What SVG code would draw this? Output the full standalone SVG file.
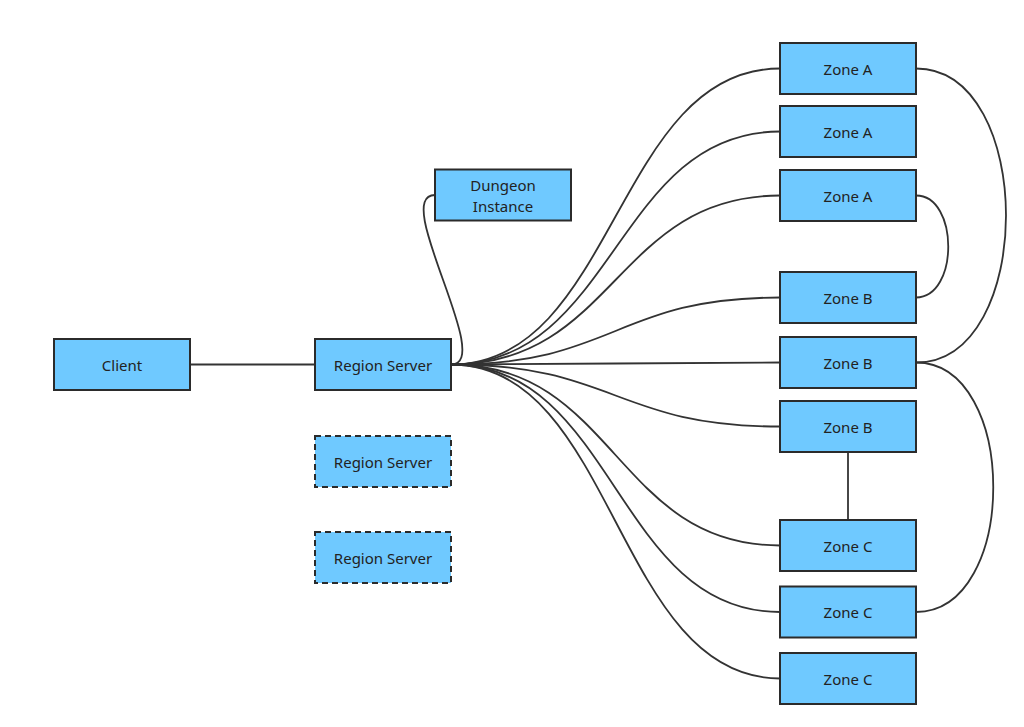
<svg xmlns="http://www.w3.org/2000/svg" width="1024" height="727" viewBox="0 0 1024 727">
<style>
.n rect{fill:#6fc9ff;stroke:#2b2b2b;stroke-width:2}
.n.d rect{stroke-dasharray:6 4}
.n text{font-family:"Noto Sans","Open Sans",sans-serif;font-size:15px;fill:#222;text-anchor:middle;dominant-baseline:central}
.e path{fill:none;stroke:#333;stroke-width:1.8}
</style>
<rect width="1024" height="727" fill="#fff"/>
<g class="e" id="connectors">
<path d="M190,364.5 L315,364.5"/>
<path d="M451,364.5 C496,364.5 390,195 435,195"/>
<path d="M451,364.5 C615.5,364.5 615.5,68.5 780,68.5"/>
<path d="M451,364.5 C615.5,364.5 615.5,131.5 780,131.5"/>
<path d="M451,364.5 C615.5,364.5 615.5,195.5 780,195.5"/>
<path d="M451,364.5 C615.5,364.5 615.5,297.5 780,297.5"/>
<path d="M451,364.5 C615.5,364.5 615.5,362.5 780,362.5"/>
<path d="M451,364.5 C615.5,364.5 615.5,426.5 780,426.5"/>
<path d="M451,364.5 C615.5,364.5 615.5,545.5 780,545.5"/>
<path d="M451,364.5 C615.5,364.5 615.5,612 780,612"/>
<path d="M451,364.5 C615.5,364.5 615.5,678.5 780,678.5"/>
<path d="M916,68.5 C1036,68.5 1036,362.5 916,362.5"/>
<path d="M916,195.5 C959,195.5 959,297.5 916,297.5"/>
<path d="M916,362.5 C1019,362.5 1019,612 916,612"/>
<path d="M848,452.5 L848,520"/>
</g>
<g class="n" id="client"><rect x="54" y="339" width="136" height="51"/><text x="122" y="364.5">Client</text></g>
<g class="n" id="region-server"><rect x="315" y="339" width="136" height="51"/><text x="383" y="364.5">Region Server</text></g>
<g class="n d" id="region-server-2"><rect x="315" y="436" width="136" height="51"/><text x="383" y="461.5">Region Server</text></g>
<g class="n d" id="region-server-3"><rect x="315" y="532" width="136" height="51"/><text x="383" y="557.5">Region Server</text></g>
<g class="n" id="dungeon"><rect x="435" y="169.5" width="136" height="51"/><text x="503" y="185">Dungeon</text><text x="503" y="206">Instance</text></g>
<g class="n" id="zone-a1"><rect x="780" y="43" width="136" height="51"/><text x="848" y="68.5">Zone A</text></g>
<g class="n" id="zone-a2"><rect x="780" y="106" width="136" height="51"/><text x="848" y="131.5">Zone A</text></g>
<g class="n" id="zone-a3"><rect x="780" y="170" width="136" height="51"/><text x="848" y="195.5">Zone A</text></g>
<g class="n" id="zone-b1"><rect x="780" y="272" width="136" height="51"/><text x="848" y="297.5">Zone B</text></g>
<g class="n" id="zone-b2"><rect x="780" y="337" width="136" height="51"/><text x="848" y="362.5">Zone B</text></g>
<g class="n" id="zone-b3"><rect x="780" y="401" width="136" height="51"/><text x="848" y="426.5">Zone B</text></g>
<g class="n" id="zone-c1"><rect x="780" y="520" width="136" height="51"/><text x="848" y="545.5">Zone C</text></g>
<g class="n" id="zone-c2"><rect x="780" y="586.5" width="136" height="51"/><text x="848" y="612">Zone C</text></g>
<g class="n" id="zone-c3"><rect x="780" y="653" width="136" height="51"/><text x="848" y="678.5">Zone C</text></g>
</svg>
